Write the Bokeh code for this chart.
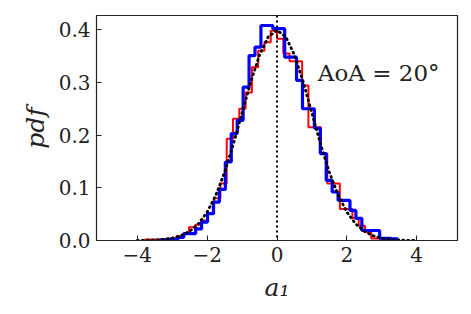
from bokeh.plotting import figure
from bokeh.models import Range1d, FixedTicker, Span, Label
from bokeh.embed import file_html
from bokeh.resources import INLINE

# ---- data ----
blue_start = -3.35
blue_width = 0.17
blue_heights = [0.001, 0.002, 0.002, 0.006, 0.013, 0.013, 0.022, 0.035, 0.051, 0.073,
                0.097, 0.149, 0.203, 0.228, 0.291, 0.351, 0.367, 0.408, 0.408, 0.402,
                0.402, 0.348, 0.348, 0.304, 0.250, 0.250, 0.213, 0.165, 0.114, 0.092,
                0.076, 0.076, 0.057, 0.042, 0.019, 0.019, 0.019, 0.004, 0.004, 0.003]

red_start = -3.78
red_width = 0.18
red_heights = [0.002, 0.002, 0.002, 0.002, 0.004, 0.008, 0.013, 0.025, 0.030, 0.038,
               0.051, 0.080, 0.108, 0.193, 0.231, 0.250, 0.281, 0.329, 0.360, 0.376,
               0.398, 0.383, 0.355, 0.340, 0.340, 0.294, 0.215, 0.215, 0.165, 0.108,
               0.108, 0.060, 0.060, 0.042, 0.028, 0.016, 0.004, 0.004, 0.002]

curve_x = [-4.0, -3.75, -3.5, -3.25, -3.0, -2.75, -2.5, -2.25, -2.0, -1.75, -1.5,
           -1.25, -1.0, -0.75, -0.5, -0.25, 0.0, 0.25, 0.5, 0.75, 1.0, 1.25, 1.5,
           1.75, 2.0, 2.25, 2.5, 2.75, 3.0, 3.25, 3.5, 3.75, 4.0]
curve_y = [0.0001, 0.0004, 0.0009, 0.0020, 0.0044, 0.0091, 0.0175, 0.0317, 0.0540,
           0.0863, 0.1295, 0.1826, 0.2420, 0.3011, 0.3521, 0.3867, 0.3989, 0.3867,
           0.3521, 0.3011, 0.2420, 0.1826, 0.1295, 0.0863, 0.0540, 0.0317, 0.0175,
           0.0091, 0.0044, 0.0020, 0.0009, 0.0004, 0.0001]

x_ticks = [-4, -2, 0, 2, 4]
x_tick_labels = ["\u22124", "\u22122", "0", "2", "4"]
y_ticks = [0.0, 0.1, 0.2, 0.3, 0.4]
y_tick_labels = ["0.0", "0.1", "0.2", "0.3", "0.4"]
annotation = "AoA = 20\u00b0"


def step_path(start, width, heights):
    xs, ys = [start], [0.0]
    for i, h in enumerate(heights):
        left = start + i * width
        xs += [left, left + width]
        ys += [h, h]
    xs.append(start + len(heights) * width)
    ys.append(0.0)
    return xs, ys


FONT = "DejaVu Serif"

p = figure(width=463, height=306, output_backend="svg", toolbar_location=None,
           x_range=Range1d(-5.17, 5.17), y_range=Range1d(0, 0.427))
p.frame_width = 361
p.frame_height = 225
p.min_border_left = 96
p.min_border_right = 6
p.min_border_top = 15
p.min_border_bottom = 66
p.grid.visible = False
p.outline_line_color = "#222222"
p.outline_line_width = 1.2
p.background_fill_color = "white"
p.border_fill_color = "white"

rx, ry = step_path(red_start, red_width, red_heights)
p.line(rx, ry, line_color="red", line_width=2)
bx, by = step_path(blue_start, blue_width, blue_heights)
p.line(bx, by, line_color="blue", line_width=3.2)
p.line(curve_x, curve_y, line_color="black", line_width=2.8,
       line_dash="1 4", line_cap="round")

p.add_layout(Span(location=0, dimension="height", line_color="black",
                  line_width=2, line_dash="2 3"))

p.add_layout(Label(x=1.17, y=0.318, text=annotation, text_font=FONT,
                   text_font_size="23px", text_baseline="middle",
                   text_color="#222222"))

for ax in (p.xaxis[0], p.yaxis[0]):
    ax.major_tick_in = 5
    ax.major_tick_out = 0
    ax.minor_tick_line_color = None
    ax.axis_line_color = "#222222"
    ax.major_tick_line_color = "#222222"
    ax.major_label_text_font = FONT
    ax.major_label_text_font_size = "20px"
    ax.major_label_text_color = "#222222"
    ax.axis_label_text_font = FONT
    ax.axis_label_text_font_size = "25px"
    ax.axis_label_text_font_style = "italic"
    ax.axis_label_text_color = "#222222"

p.xaxis.ticker = FixedTicker(ticks=x_ticks)
p.xaxis.major_label_overrides = dict(zip(x_ticks, x_tick_labels))
p.yaxis.ticker = FixedTicker(ticks=y_ticks)
p.yaxis.major_label_overrides = dict(zip(y_ticks, y_tick_labels))
p.xaxis.axis_label = "a\u2081"
p.yaxis.axis_label = "pdf"
p.xaxis.major_label_standoff = 6
p.yaxis.major_label_standoff = 6
p.xaxis.axis_label_standoff = 8
p.yaxis.axis_label_standoff = 6

open("out.html", "w").write(file_html(p, INLINE))
